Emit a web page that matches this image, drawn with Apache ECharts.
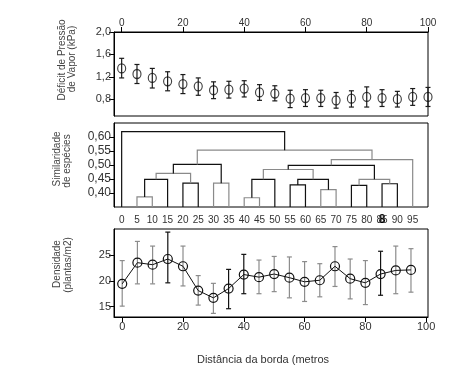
<!DOCTYPE html>
<html><head><meta charset="utf-8">
<script src="https://cdn.jsdelivr.net/npm/echarts@6/dist/echarts.min.js"></script>
<style>html,body{margin:0;padding:0;background:#fff}#c{width:459px;height:371px}</style>
</head><body><div id="c"></div>
<script>
// ---- Top panel: Déficit de Pressão de Vapor (kPa)
const vpdDist = [0,5,10,15,20,25,30,35,40,45,50,55,60,65,70,75,80,85,90,95,100];
const vpdMean = [1.35,1.25,1.18,1.12,1.07,1.03,0.96,0.97,0.99,0.92,0.90,0.81,0.82,0.82,0.78,0.81,0.84,0.82,0.80,0.84,0.84];
const vpdLow  = [1.18,1.08,1.00,0.95,0.90,0.87,0.81,0.82,0.84,0.78,0.77,0.65,0.67,0.67,0.64,0.66,0.66,0.67,0.66,0.69,0.67];
const vpdHigh = [1.53,1.42,1.35,1.29,1.24,1.18,1.11,1.12,1.13,1.06,1.04,0.96,0.97,0.96,0.92,0.95,1.02,0.97,0.94,0.99,1.01];
const vpdTicks = [0.8,1.2,1.6,2.0];
const topXTicks = [0,20,40,60,80,100];

// ---- Middle panel: dendrogram (Similaridade de espécies)
const leafDist = [0,5,10,15,20,25,30,35,40,45,50,55,60,65,70,75,80,85,90,95];
// [childA, childB, similarity]; indices < 20 are leaves, >= 20 are earlier merges (20 + position)
const merges = [
  [1,2,0.386],[20,3,0.449],[4,5,0.435],[21,22,0.470],[6,7,0.435],[23,24,0.502],
  [8,9,0.383],[26,10,0.449],[11,12,0.429],[13,14,0.412],[28,29,0.449],[27,30,0.484],
  [15,16,0.427],[17,18,0.433],[32,33,0.449],[31,34,0.499],[35,19,0.519],[25,36,0.553],
  [0,37,0.619]
];
const simTicks = [0.40,0.45,0.50,0.55,0.60];

// ---- Bottom panel: Densidade (plantas/m2)
const densDist = [0,5,10,15,20,25,30,35,40,45,50,55,60,65,70,75,80,85,90,95];
const densMean = [19.4,23.5,23.1,24.2,22.8,18.1,16.7,18.5,21.2,20.7,21.3,20.6,19.8,20.1,22.8,20.4,19.6,21.3,22.0,22.1];
const densLow  = [15.1,19.4,19.4,19.6,19.0,15.3,13.7,14.6,17.5,17.5,17.9,16.7,16.0,16.9,18.9,16.5,15.4,17.2,17.5,17.8];
const densHigh = [23.9,27.6,26.7,29.4,26.7,21.0,19.5,22.2,25.1,24.0,24.7,24.6,23.7,23.3,26.6,24.2,23.9,25.7,26.7,26.2];
const densTicks = [15,20,25];
const botXTicks = [0,20,40,60,80,100];

// style helpers
const grayMerges = [0,3,4,6,9,11,14,16,17];
const darkDensBars = [3,7,8,17];
const FONT = '"Liberation Sans", Arial, sans-serif';
const TXT = '#333';
const Y_MIN_SIM = 0.35;

const chart = echarts.init(document.getElementById('c'), null, {renderer:'canvas'});

const nodeX = leafDist.slice();
const nodeH = leafDist.map(() => Y_MIN_SIM);
merges.forEach(([a,b,h], i) => { nodeX[20+i] = (nodeX[a]+nodeX[b])/2; nodeH[20+i] = h; });
const dendroData = merges.map(([a,b,h]) => [nodeX[a], nodeH[a], nodeX[b], nodeH[b], h]);

function errBar(color, capW, colorFn) {
  return function(params, api) {
    const x = api.value(0);
    const lo = api.coord([x, api.value(1)]);
    const hi = api.coord([x, api.value(2)]);
    const c = colorFn ? colorFn(params.dataIndex) : color;
    const st = {stroke: c, lineWidth: 1.2};
    return {type:'group', children:[
      {type:'line', shape:{x1:lo[0], y1:lo[1], x2:hi[0], y2:hi[1]}, style:st},
      {type:'line', shape:{x1:lo[0]-capW, y1:lo[1], x2:lo[0]+capW, y2:lo[1]}, style:st},
      {type:'line', shape:{x1:hi[0]-capW, y1:hi[1], x2:hi[0]+capW, y2:hi[1]}, style:st}
    ]};
  };
}

const gridBase = {left:114, width:314, show:true, borderColor:'#000', borderWidth:1, backgroundColor:'transparent'};
const tickStyle = {show:true, length:5, lineStyle:{color:'#000', width:1}};

const option = {
  backgroundColor:'#fff',
  animation:false,
  textStyle:{fontFamily:FONT},
  grid:[
    Object.assign({top:32, height:84}, gridBase),
    Object.assign({top:123, height:84}, gridBase),
    Object.assign({top:229, height:88}, gridBase)
  ],
  xAxis:[
    {gridIndex:0, type:'value', position:'top', min:-2.5, max:100,
     axisLine:{show:true, onZero:false, lineStyle:{color:'#000'}},
     axisTick:Object.assign({customValues:topXTicks}, tickStyle),
     axisLabel:{customValues:topXTicks, color:TXT, fontSize:10, margin:4, fontFamily:FONT},
     splitLine:{show:false}},
    {gridIndex:1, type:'value', min:-2.5, max:100,
     axisLine:{show:false, onZero:false},
     axisTick:{show:false},
     axisLabel:{customValues:leafDist, color:TXT, fontSize:10, margin:8, fontFamily:FONT},
     splitLine:{show:false}},
    {gridIndex:2, type:'value', min:-2.7, max:100.6,
     axisLine:{show:true, onZero:false, lineStyle:{color:'#000'}},
     axisTick:Object.assign({customValues:botXTicks}, tickStyle),
     axisLabel:{customValues:botXTicks, color:TXT, fontSize:11, margin:4, fontFamily:FONT},
     splitLine:{show:false}}
  ],
  yAxis:[
    {gridIndex:0, type:'value', min:0.5, max:2.0,
     axisLine:{show:true, onZero:false, lineStyle:{color:'#000'}},
     axisTick:Object.assign({customValues:vpdTicks}, tickStyle),
     axisLabel:{customValues:vpdTicks, color:TXT, fontSize:11, margin:3, fontFamily:FONT,
       formatter:v => v.toFixed(1).replace('.', ',')},
     splitLine:{show:false}},
    {gridIndex:1, type:'value', min:0.35, max:0.65,
     axisLine:{show:true, onZero:false, lineStyle:{color:'#000'}},
     axisTick:Object.assign({customValues:simTicks}, tickStyle),
     axisLabel:{customValues:simTicks, color:TXT, fontSize:12, margin:3, fontFamily:FONT,
       formatter:v => v.toFixed(2).replace('.', ',')},
     splitLine:{show:false}},
    {gridIndex:2, type:'value', min:13, max:30,
     axisLine:{show:true, onZero:false, lineStyle:{color:'#000'}},
     axisTick:Object.assign({customValues:densTicks}, tickStyle),
     axisLabel:{customValues:densTicks, color:TXT, fontSize:11, margin:3, fontFamily:FONT},
     splitLine:{show:false}}
  ],
  series:[
    {type:'custom', xAxisIndex:0, yAxisIndex:0, clip:false, z:2,
     renderItem: errBar('#1a1a1a', 2.5),
     encode:{x:0, y:[1,2]},
     data: vpdDist.map((d,i) => [d, vpdLow[i], vpdHigh[i]])},
    {type:'scatter', xAxisIndex:0, yAxisIndex:0, clip:false, z:3,
     symbol:'circle', symbolSize:[8,9],
     itemStyle:{color:'transparent', borderColor:'#111', borderWidth:1.2},
     data: vpdDist.map((d,i) => [d, vpdMean[i]])},
    {type:'custom', xAxisIndex:1, yAxisIndex:1, clip:false,
     renderItem:function(params, api){
       const xl=api.value(0), yl=api.value(1), xr=api.value(2), yr=api.value(3), h=api.value(4);
       const pts=[api.coord([xl,yl]), api.coord([xl,h]), api.coord([xr,h]), api.coord([xr,yr])];
       const c = grayMerges.indexOf(params.dataIndex) >= 0 ? '#8a8a8a' : '#111';
       return {type:'polyline', shape:{points:pts}, style:{stroke:c, fill:null, lineWidth:1.2}};
     },
     encode:{x:[0,2], y:[1,3,4]},
     data: dendroData},
    {type:'custom', xAxisIndex:2, yAxisIndex:2, clip:false, z:2,
     renderItem: errBar('#8c8c8c', 2.5, i => darkDensBars.indexOf(i) >= 0 ? '#111' : '#8c8c8c'),
     encode:{x:0, y:[1,2]},
     data: densDist.map((d,i) => [d, densLow[i], densHigh[i]])},
    {type:'line', xAxisIndex:2, yAxisIndex:2, clip:false, z:3,
     symbol:'circle', symbolSize:9,
     lineStyle:{color:'#111', width:1},
     itemStyle:{color:'transparent', borderColor:'#111', borderWidth:1.2},
     data: densDist.map((d,i) => [d, densMean[i]])}
  ],
  graphic:[
    {type:'text', x:62, y:60, rotation:Math.PI/2, style:{text:'Déficit de Pressão', font:'10px '+FONT, fill:'#444', align:'center', verticalAlign:'middle'}},
    {type:'text', x:72, y:59, rotation:Math.PI/2, style:{text:'de Vapor (kPa)', font:'10px '+FONT, fill:'#444', align:'center', verticalAlign:'middle'}},
    {type:'text', x:57, y:159, rotation:Math.PI/2, style:{text:'Similaridade', font:'10px '+FONT, fill:'#444', align:'center', verticalAlign:'middle'}},
    {type:'text', x:67, y:161, rotation:Math.PI/2, style:{text:'de espécies', font:'10px '+FONT, fill:'#444', align:'center', verticalAlign:'middle'}},
    {type:'text', x:57, y:264, rotation:Math.PI/2, style:{text:'Densidade', font:'10px '+FONT, fill:'#444', align:'center', verticalAlign:'middle'}},
    {type:'text', x:68, y:265, rotation:Math.PI/2, style:{text:'(plantas/m2)', font:'10px '+FONT, fill:'#444', align:'center', verticalAlign:'middle'}},
    {type:'text', x:382, y:220, style:{text:'8', font:'bold 12px '+FONT, fill:'#000', align:'center', verticalAlign:'middle'}},
    {type:'text', x:263, y:360, style:{text:'Distância da borda (metros', font:'11px '+FONT, fill:'#333', align:'center', verticalAlign:'middle'}}
  ]
};
chart.setOption(option);
</script>
</body></html>
